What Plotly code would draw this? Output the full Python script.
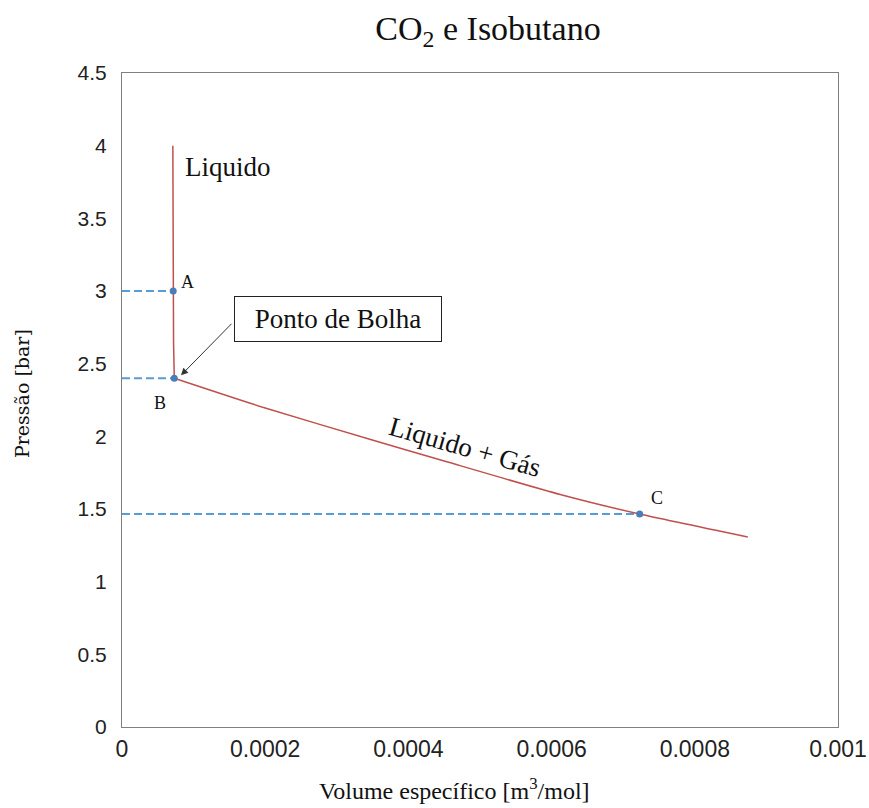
import plotly.graph_objects as go

# Liquid branch (steep, near-vertical) and two-phase branch of the isotherm
liq_volume = [7.10e-5, 7.15e-5, 7.20e-5, 7.30e-5]
liq_pressure = [4.00, 3.00, 2.65, 2.40]

mix_volume = [7.30e-5, 2.00e-4, 3.46e-4, 4.50e-4, 6.12e-4, 7.23e-4, 8.74e-4]
mix_pressure = [2.40, 2.195, 1.98, 1.83, 1.60, 1.465, 1.307]

# Marked states
point_names = ["A", "B", "C"]
point_volume = [7.15e-5, 7.30e-5, 7.23e-4]
point_pressure = [3.00, 2.40, 1.465]
point_label_shift = [(14, 9), (-14, -25), (17, 16)]

x_ticks = [0, 0.0002, 0.0004, 0.0006, 0.0008, 0.001]
x_tick_text = ["0", "0.0002", "0.0004", "0.0006", "0.0008", "0.001"]
y_ticks = [0, 0.5, 1, 1.5, 2, 2.5, 3, 3.5, 4, 4.5]
y_tick_text = ["0", "0.5", "1", "1.5", "2", "2.5", "3", "3.5", "4", "4.5"]

RED = "#c0504d"
BLUE = "#5b9bd5"
DOT = "#4a7ebb"
SERIF = "Liberation Serif, Times New Roman, serif"
SLAB = "DejaVu Serif, serif"
SANS = "Liberation Sans, Arial, sans-serif"

fig = go.Figure()

# Dashed guides from the pressure axis to each marked state
for v, p in zip(point_volume, point_pressure):
    fig.add_trace(go.Scatter(
        x=[0, v], y=[p, p], mode="lines",
        line=dict(color=BLUE, width=2, dash="8px,4px"),
        hoverinfo="skip", showlegend=False))

fig.add_trace(go.Scatter(x=liq_volume, y=liq_pressure, mode="lines",
                         line=dict(color=RED, width=1.5), showlegend=False))
fig.add_trace(go.Scatter(x=mix_volume, y=mix_pressure, mode="lines",
                         line=dict(color=RED, width=1.5, shape="spline", smoothing=0.6),
                         showlegend=False))
fig.add_trace(go.Scatter(x=point_volume, y=point_pressure, mode="markers",
                         marker=dict(color=DOT, size=7), showlegend=False))

annotations = []
for name, v, p, (dx, dy) in zip(point_names, point_volume, point_pressure, point_label_shift):
    annotations.append(dict(x=v, y=p, text=name, showarrow=False,
                            xshift=dx, yshift=dy,
                            font=dict(family=SERIF, size=18, color="#111")))

annotations += [
    dict(x=1.48e-4, y=3.85, text="Liquido", showarrow=False,
         font=dict(family=SERIF, size=27, color="#111")),
    dict(x=4.79e-4, y=1.926, text="Liquido + Gás", showarrow=False,
         textangle=16, font=dict(family=SERIF, size=27, color="#111")),
    dict(x=3.02e-4, y=2.804, text="Ponto de Bolha", showarrow=False,
         width=204, height=42, bordercolor="#222", borderwidth=1,
         bgcolor="white", font=dict(family=SERIF, size=27, color="#111")),
    # arrow from the label box to the bubble point B
    dict(x=8.24e-5, y=2.42, ax=52, ay=-53, text="", showarrow=True,
         arrowhead=2, arrowsize=1.4, arrowwidth=1, arrowcolor="#333"),
    dict(x=-100 / 716, y=(727 - 394) / 654, xref="paper", yref="paper",
         xanchor="center", yanchor="middle",
         text="Pressão [bar]", textangle=-90, showarrow=False,
         font=dict(family=SLAB, size=19, color="#111")),
    dict(x=(454 - 122) / 716, y=-(772 - 727) / 654, xref="paper", yref="paper",
         xanchor="center", yanchor="top",
         text="Volume específico [m<sup>3</sup>/mol]", showarrow=False,
         font=dict(family=SERIF, size=24, color="#111")),
]

fig.update_layout(
    width=869, height=808,
    margin=dict(l=122, r=31, t=73, b=81, autoexpand=False),
    paper_bgcolor="white", plot_bgcolor="white",
    title=dict(text="CO<sub>2</sub> e Isobutano", x=488 / 869, xanchor="center",
               y=1 - 28 / 808, yanchor="middle", xref="container", yref="container",
               font=dict(family=SERIF, size=34, color="#111")),
    xaxis=dict(range=[0, 0.001], tickvals=x_ticks, ticktext=x_tick_text,
               showgrid=False, zeroline=False, showline=True, mirror=True,
               linecolor="#7f7f7f", linewidth=1, ticks="", automargin=False,
               ticklabelstandoff=1,
               tickfont=dict(family=SANS, size=23, color="#222")),
    yaxis=dict(range=[0, 4.5], tickvals=y_ticks, ticktext=y_tick_text,
               showgrid=False, zeroline=False, showline=True, mirror=True,
               linecolor="#7f7f7f", linewidth=1, ticks="", automargin=False,
               ticklabelstandoff=10,
               tickfont=dict(family=SANS, size=21, color="#222")),
    annotations=annotations,
)

fig.write_html("out.html")
